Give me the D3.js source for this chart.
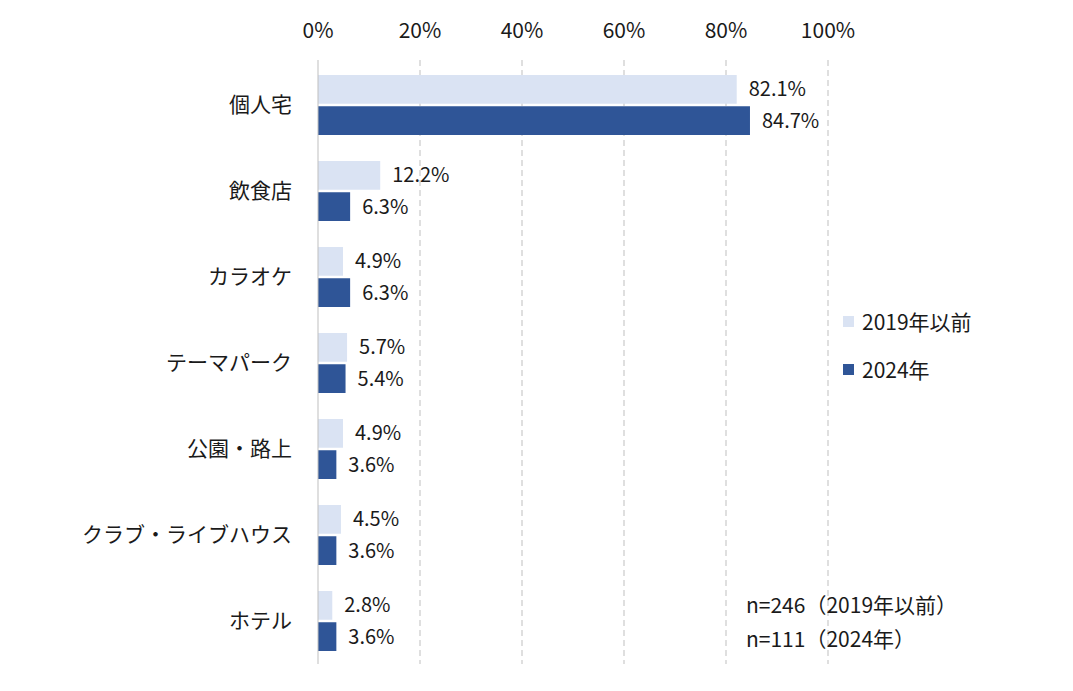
<!DOCTYPE html>
<html><head><meta charset="utf-8">
<script src="https://cdn.jsdelivr.net/npm/d3@7"></script>
<style>body{margin:0;background:#fff}text{font-family:"Noto Sans CJK JP",sans-serif;fill:#1a1a1a}</style>
</head><body><svg id="c" width="1073" height="691"></svg>
<script>
const categories=["個人宅","飲食店","カラオケ","テーマパーク","公園・路上","クラブ・ライブハウス","ホテル"];
const values2019=[82.1,12.2,4.9,5.7,4.9,4.5,2.8];
const values2024=[84.7,6.3,6.3,5.4,3.6,3.6,3.6];
const ticks=[0,20,40,60,80,100];
const series=[{name:"2019年以前",values:values2019,color:"#dae3f3"},{name:"2024年",values:values2024,color:"#2f5597"}];
const notes=["n=246（2019年以前）","n=111（2024年）"];
const svg=d3.select("#c");
const x=d3.scaleLinear().domain([0,100]).range([318,828]);
const y=d3.scaleBand().domain(categories).range([62,664]);
const inner=d3.scaleBand().domain([0,1]).range([13,y.bandwidth()-13]).paddingInner(0.08);
svg.append("g").selectAll("line").data(ticks.slice(1)).join("line")
 .attr("x1",d=>x(d)).attr("x2",d=>x(d)).attr("y1",60).attr("y2",664)
 .attr("stroke","#bfbfbf").attr("stroke-dasharray","6,4");
svg.append("g").selectAll("text").data(ticks).join("text")
 .attr("x",d=>x(d)).attr("y",38).attr("text-anchor","middle").attr("font-size",21).text(d=>d+"%");
series.forEach((s,i)=>{
 const g=svg.append("g");
 g.selectAll("rect").data(s.values).join("rect")
  .attr("x",x(0)).attr("y",(d,j)=>y(categories[j])+inner(i)).attr("height",inner.bandwidth())
  .attr("width",d=>x(d)-x(0)).attr("fill",s.color);
 g.selectAll("text").data(s.values).join("text")
  .attr("x",d=>x(d)+12).attr("y",(d,j)=>y(categories[j])+inner(i)+inner.bandwidth()/2+7)
  .attr("font-size",20).text(d=>d.toFixed(1)+"%");
});
svg.append("line").attr("x1",x(0)).attr("x2",x(0)).attr("y1",60).attr("y2",664).attr("stroke","#bfbfbf");
svg.append("g").selectAll("text").data(categories).join("text")
 .attr("x",292).attr("y",d=>y(d)+y.bandwidth()/2+7).attr("text-anchor","end").attr("font-size",21).text(d=>d);
series.forEach((s,i)=>{
 svg.append("rect").attr("x",843).attr("y",316+i*48).attr("width",11).attr("height",11).attr("fill",s.color);
 svg.append("text").attr("x",862).attr("y",330+i*48).attr("font-size",21).text(s.name);
});
notes.forEach((n,i)=>svg.append("text").attr("x",746).attr("y",613+i*34).attr("font-size",21).text(n));
</script></body></html>
